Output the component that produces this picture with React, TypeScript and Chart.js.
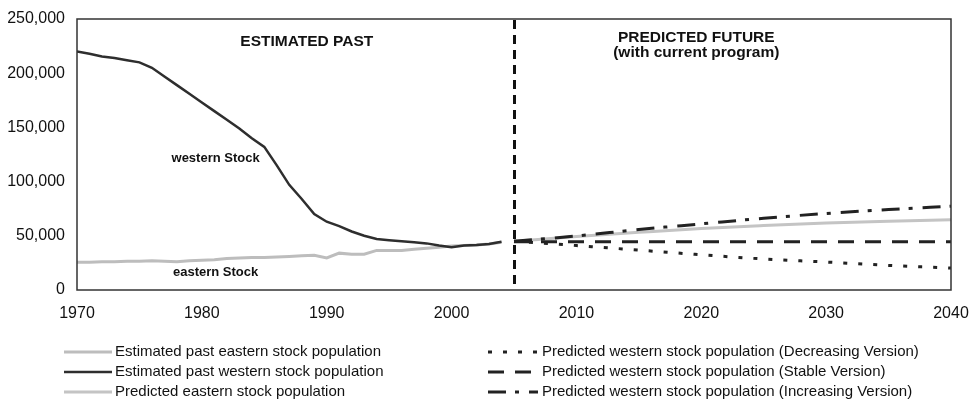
import React, { useEffect, useRef } from "react";
import { Chart, registerables } from "chart.js";

Chart.register(...registerables);

// ---- Data ----
const pastYears = [1970, 1971, 1972, 1973, 1974, 1975, 1976, 1977, 1978, 1979, 1980, 1981, 1982, 1983, 1984, 1985, 1986, 1987, 1988, 1989, 1990, 1991, 1992, 1993, 1994, 1995, 1996, 1997, 1998, 1999, 2000, 2001, 2002, 2003, 2004];
const pastEastern = [25500, 25500, 26000, 26000, 26500, 26500, 27000, 26500, 26000, 27000, 27500, 28000, 29000, 29500, 30000, 30000, 30500, 31000, 31500, 32000, 29500, 34000, 33000, 33000, 36500, 36500, 36500, 37500, 38500, 39500, 40500, 41000, 41500, 42500, 44000];
const pastWestern = [220000, 218000, 215500, 214000, 212000, 210000, 205000, 197000, 189000, 181000, 173000, 165000, 157000, 149000, 140000, 132000, 115000, 97000, 84000, 70000, 63000, 59000, 54000, 50000, 47000, 46000, 45000, 44000, 43000, 41000, 39500, 41000, 41500, 42500, 44500];

const futureYears = [2005, 2010, 2015, 2020, 2025, 2030, 2035, 2040];
const futureEastern = [45000, 49300, 53200, 56800, 59500, 61800, 63500, 64800];
const futureDecreasing = [45000, 41000, 36800, 32500, 28600, 25800, 22700, 20200];
const futureStable = [44500, 44500, 44500, 44500, 44500, 44500, 44500, 44500];
const futureIncreasing = [45000, 49800, 55800, 61000, 66200, 70600, 74200, 77300];

const seriesLabels = [
  "Estimated past eastern stock population",
  "Estimated past western stock population",
  "Predicted eastern stock population",
  "Predicted western stock population (Decreasing Version)",
  "Predicted western stock population (Stable Version)",
  "Predicted western stock population (Increasing Version)",
];

const xTicksMin = 1970;
const xTicksMax = 2040;
const yTicksMax = 250000;
const dividerYear = 2005;

const annotations = [
  { text: "ESTIMATED PAST", x: 1988.4, y: 228800, font: "bold 15.5px 'Liberation Sans', Arial, sans-serif" },
  { text: "PREDICTED FUTURE", x: 2019.6, y: 232500, font: "bold 15.5px 'Liberation Sans', Arial, sans-serif" },
  { text: "(with current program)", x: 2019.6, y: 218600, font: "bold 15.5px 'Liberation Sans', Arial, sans-serif" },
  { text: "western Stock", x: 1981.1, y: 121800, font: "bold 13px 'Liberation Sans', Arial, sans-serif" },
  { text: "eastern Stock", x: 1981.1, y: 16600, font: "bold 13px 'Liberation Sans', Arial, sans-serif" },
];

const toPoints = (xs: number[], ys: number[]) => xs.map((x, i) => ({ x, y: ys[i] }));

const FONT = "'Liberation Sans', Arial, sans-serif";

const overlayPlugin = {
  id: "overlay",
  afterDraw(chart: any) {
    const { ctx, chartArea, scales } = chart;
    const { left, top, right, bottom } = chartArea;
    const xs = scales.x;
    const ys = scales.y;
    ctx.save();

    // divider
    const dx = Math.round(xs.getPixelForValue(dividerYear)) + 0.5;
    ctx.beginPath();
    ctx.setLineDash([9, 6]);
    ctx.lineWidth = 3;
    ctx.strokeStyle = "#111";
    ctx.moveTo(dx, top + 1);
    ctx.lineTo(dx, bottom);
    ctx.stroke();
    ctx.setLineDash([]);

    // box
    ctx.strokeStyle = "#333";
    ctx.lineWidth = 1.5;
    ctx.strokeRect(left, top, right - left, bottom - top);

    // annotations
    ctx.fillStyle = "#111";
    ctx.textAlign = "center";
    ctx.textBaseline = "middle";
    annotations.forEach((a) => {
      ctx.font = a.font;
      ctx.fillText(a.text, xs.getPixelForValue(a.x), ys.getPixelForValue(a.y));
    });

    // legend
    const ds = chart.data.datasets;
    const cols = [
      { sx: 64, ex: 112, tx: 115 },
      { sx: 488, ex: 538, tx: 542 },
    ];
    const rowY = [352, 372, 392];
    ctx.font = `15px ${FONT}`;
    ctx.textAlign = "left";
    ds.forEach((d: any, i: number) => {
      const c = cols[Math.floor(i / 3)];
      const y = rowY[i % 3];
      ctx.beginPath();
      ctx.setLineDash(d.borderDash || []);
      ctx.lineWidth = d.borderWidth;
      ctx.strokeStyle = d.borderColor;
      ctx.moveTo(c.sx, y);
      ctx.lineTo(c.ex, y);
      ctx.stroke();
      ctx.setLineDash([]);
      ctx.fillStyle = "#111";
      ctx.fillText(d.label, c.tx, y);
    });
    ctx.restore();
  },
};

export default function App() {
  const ref = useRef<HTMLCanvasElement>(null);
  useEffect(() => {
    if (!ref.current) return;
    const chart = new Chart(ref.current, {
      type: "line",
      data: {
        datasets: [
          { label: seriesLabels[0], data: toPoints(pastYears, pastEastern), borderColor: "#bdbdbd", borderWidth: 3, pointRadius: 0, tension: 0, order: 2 },
          { label: seriesLabels[1], data: toPoints(pastYears, pastWestern), borderColor: "#2e2e2e", borderWidth: 2.5, pointRadius: 0, tension: 0, order: 1 },
          { label: seriesLabels[2], data: toPoints(futureYears, futureEastern), borderColor: "#c4c4c4", borderWidth: 3, pointRadius: 0, cubicInterpolationMode: "monotone", order: 3 },
          { label: seriesLabels[3], data: toPoints(futureYears, futureDecreasing), borderColor: "#222", borderWidth: 3, borderDash: [4, 11], pointRadius: 0, cubicInterpolationMode: "monotone", order: 1 },
          { label: seriesLabels[4], data: toPoints(futureYears, futureStable), borderColor: "#222", borderWidth: 3, borderDash: [16, 11], pointRadius: 0, order: 1 },
          { label: seriesLabels[5], data: toPoints(futureYears, futureIncreasing), borderColor: "#222", borderWidth: 3, borderDash: [18, 9, 4, 10], pointRadius: 0, cubicInterpolationMode: "monotone", order: 1 },
        ] as any,
      },
      options: {
        animation: false,
        responsive: false,
        layout: { padding: { top: 19, right: 18, left: 0, bottom: 0 } },
        plugins: { legend: { display: false }, tooltip: { enabled: false } },
        scales: {
          x: {
            type: "linear",
            min: xTicksMin,
            max: xTicksMax,
            grid: { display: false, drawTicks: false },
            border: { display: false },
            ticks: {
              stepSize: 10,
              padding: 14,
              color: "#111",
              font: { family: FONT, size: 16 },
              callback: (v: any) => String(v),
              maxRotation: 0,
            },
            afterFit: (s: any) => { s.height = 110; s.paddingLeft = 0; s.paddingRight = 0; },
          },
          y: {
            min: 0,
            max: yTicksMax,
            grid: { display: false, drawTicks: false },
            border: { display: false },
            ticks: {
              stepSize: 50000,
              padding: 12,
              color: "#111",
              font: { family: FONT, size: 16 },
              callback: (v: any) => Number(v).toLocaleString("en-US"),
            },
            afterFit: (s: any) => { s.width = 77; s.paddingTop = 0; s.paddingBottom = 0; },
          },
        },
      },
      plugins: [overlayPlugin],
    });
    return () => chart.destroy();
  }, []);
  return (
    <div style={{ position: "fixed", left: 0, top: 0, width: 969, height: 400, background: "#fff" }}>
      <canvas ref={ref} width={969} height={400} />
    </div>
  );
}
